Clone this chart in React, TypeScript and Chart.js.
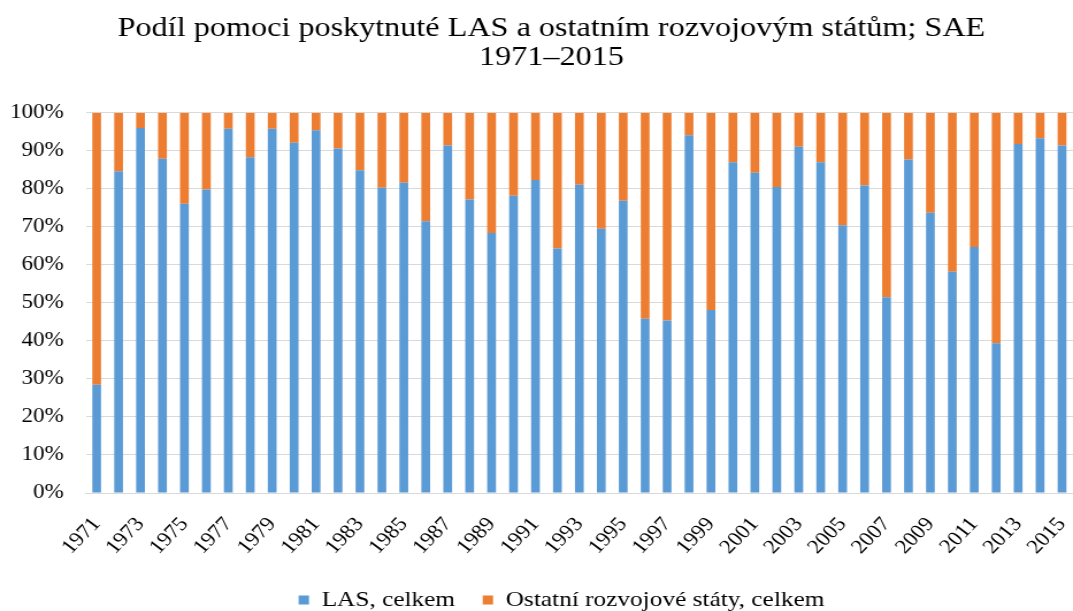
import React, { useEffect, useRef } from "react";
import { Chart, registerables } from "chart.js";

Chart.register(...registerables);

const years = [
  "1971", "1972", "1973", "1974", "1975", "1976", "1977", "1978", "1979", "1980",
  "1981", "1982", "1983", "1984", "1985", "1986", "1987", "1988", "1989", "1990",
  "1991", "1992", "1993", "1994", "1995", "1996", "1997", "1998", "1999", "2000",
  "2001", "2002", "2003", "2004", "2005", "2006", "2007", "2008", "2009", "2010",
  "2011", "2012", "2013", "2014", "2015",
];

const lasValues = [
  28.5, 84.6, 96.0, 87.9, 76.1, 79.8, 95.8, 88.3, 95.8, 92.1,
  95.4, 90.6, 84.9, 80.3, 81.6, 71.5, 91.4, 77.2, 68.4, 78.2,
  82.3, 64.3, 81.1, 69.5, 76.9, 45.8, 45.4, 94.1, 48.1, 87.0,
  84.2, 80.5, 91.1, 87.0, 70.4, 80.9, 51.5, 87.7, 73.7, 58.2,
  64.7, 39.4, 91.8, 93.3, 91.4,
];

const otherValues = [
  71.5, 15.4, 4.0, 12.1, 23.9, 20.2, 4.2, 11.7, 4.2, 7.9,
  4.6, 9.4, 15.1, 19.7, 18.4, 28.5, 8.6, 22.8, 31.6, 21.8,
  17.7, 35.7, 18.9, 30.5, 23.1, 54.2, 54.6, 5.9, 51.9, 13.0,
  15.8, 19.5, 8.9, 13.0, 29.6, 19.1, 48.5, 12.3, 26.3, 41.8,
  35.3, 60.6, 8.2, 6.7, 8.6,
];

const seriesNames = ["LAS, celkem", "Ostatní rozvojové státy, celkem"];
const titleLines = [
  "Podíl pomoci poskytnuté LAS a ostatním rozvojovým státům; SAE",
  "1971–2015",
];

const FONT = '"Liberation Serif", "Times New Roman", serif';
const INNER_W = 933;
const H = 611;
const OUTER_W = 1073;

// nudges the title and legend blocks to where the reference centres them
const blockOffsetPlugin = {
  id: "blockOffset",
  afterLayout(chart: any) {
    const t = chart.titleBlock;
    if (t) {
      t.left += 26;
    }
    const l = chart.legend;
    if (l) {
      l.left -= 15.5;
      l.right -= 15.5;
    }
  },
};

export default function App() {
  const ref = useRef<HTMLCanvasElement>(null);

  useEffect(() => {
    const chart = new Chart(ref.current as HTMLCanvasElement, {
      type: "bar",
      data: {
        labels: years,
        datasets: [
          {
            label: seriesNames[0],
            data: lasValues,
            backgroundColor: "#5B9BD5",
            barPercentage: 0.4,
            categoryPercentage: 1,
          },
          {
            label: seriesNames[1],
            data: otherValues,
            backgroundColor: "#ED7D31",
            barPercentage: 0.4,
            categoryPercentage: 1,
          },
        ],
      },
      plugins: [blockOffsetPlugin],
      options: {
        animation: false,
        responsive: true,
        maintainAspectRatio: false,
        layout: { padding: { left: 0, right: 0, top: 0, bottom: -10 } },
        plugins: {
          title: {
            display: true,
            text: titleLines,
            color: "#000",
            font: { family: FONT, size: 28, weight: "normal", lineHeight: 1.05 },
            padding: { top: 14, bottom: 40 },
          },
          legend: {
            position: "bottom",
            fullSize: false,
            labels: {
              font: { family: FONT, size: 22 },
              color: "#000",
              boxWidth: 9,
              boxHeight: 9,
              padding: 24,
            },
          },
          tooltip: { enabled: false },
        },
        scales: {
          x: {
            stacked: true,
            grid: { display: false },
            border: { color: "#d9d9d9" },
            ticks: {
              autoSkip: false,
              maxRotation: 49,
              minRotation: 49,
              padding: 12,
              color: "#000",
              font: { family: FONT, size: 20 },
              callback: (_v: any, i: number) => (i % 2 === 0 ? years[i] : ""),
            },
            afterFit: (s: any) => {
              s.height = 72;
              s.paddingLeft = 0;
              s.paddingRight = 0;
            },
          },
          y: {
            stacked: true,
            min: 0,
            max: 100,
            ticks: {
              stepSize: 10,
              padding: 19,
              color: "#000",
              font: { family: FONT, size: 20 },
              callback: (v: any) => v + "%",
            },
            grid: { color: "#d9d9d9", drawTicks: false },
            border: { display: false },
            afterFit: (s: any) => {
              s.width = 74.5;
            },
          },
        },
      },
    } as any);
    return () => chart.destroy();
  }, []);

  return (
    <div
      style={{
        position: "absolute",
        left: 0,
        top: 0,
        width: OUTER_W,
        height: H,
        overflow: "hidden",
        background: "#fff",
      }}
    >
      <div
        style={{
          width: INNER_W,
          height: H,
          transform: `scaleX(${OUTER_W / INNER_W})`,
          transformOrigin: "0 0",
        }}
      >
        <canvas ref={ref} />
      </div>
    </div>
  );
}
